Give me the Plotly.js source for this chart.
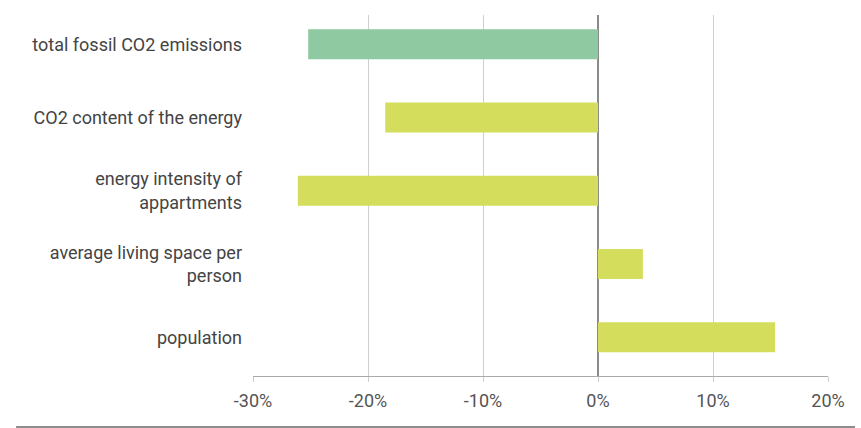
<!DOCTYPE html>
<html>
<head>
<meta charset="utf-8">
<script src="https://cdn.plot.ly/plotly-3.0.1.min.js"></script>
<style>html,body{margin:0;padding:0;background:#fff;}#chart{width:861px;height:428px;}</style>
</head>
<body>
<div id="chart"></div>
<script>
var categories = [
  "total fossil CO2 emissions",
  "CO2 content of the energy",
  "energy intensity of<br>appartments",
  "average living space per<br>person",
  "population"
];
var values = [-25.2, -18.5, -26.1, 3.9, 15.4];
var barColors = ["#8ec9a1", "#d5dd5c", "#d5dd5c", "#d5dd5c", "#d5dd5c"];
var tickVals = [-30, -20, -10, 0, 10, 20];
var tickText = ["-30%", "-20%", "-10%", "0%", "10%", "20%"];

var trace = {
  type: "bar",
  orientation: "h",
  y: categories,
  x: values,
  width: 0.41,
  marker: {color: barColors, line: {width: 0}},
  hoverinfo: "x+y"
};

var layout = {
  width: 861, height: 428,
  margin: {l: 253, r: 33.3, t: 15, b: 52, pad: 0},
  paper_bgcolor: "#ffffff",
  plot_bgcolor: "#ffffff",
  showlegend: false,
  font: {family: "Roboto, sans-serif", color: "#444444", size: 18},
  xaxis: {
    range: [-30, 20],
    tickvals: tickVals,
    ticktext: tickText,
    showgrid: true,
    gridcolor: "#cfcfcf",
    gridwidth: 1,
    zeroline: true,
    zerolinecolor: "#8a8a8a",
    zerolinewidth: 1.5,
    showline: true,
    linecolor: "#aaaaaa",
    linewidth: 1,
    ticks: "outside",
    ticklen: 5,
    tickcolor: "#cfcfcf",
    ticklabelstandoff: 3,
    tickfont: {size: 18, color: "#555555"},
    fixedrange: true
  },
  yaxis: {
    type: "category",
    categoryorder: "array",
    categoryarray: categories,
    range: [4.53, -0.40],
    showgrid: false,
    zeroline: false,
    showline: false,
    ticks: "",
    ticklabelstandoff: 10,
    tickfont: {size: 18, color: "#444444"},
    fixedrange: true
  },
  shapes: [{
    type: "line", xref: "paper", yref: "paper",
    x0: -0.412, x1: 1.047, y0: -0.141, y1: -0.141,
    line: {color: "#666666", width: 1.5}
  }]
};

Plotly.newPlot("chart", [trace], layout, {displayModeBar: false, staticPlot: true});
</script>
</body>
</html>
